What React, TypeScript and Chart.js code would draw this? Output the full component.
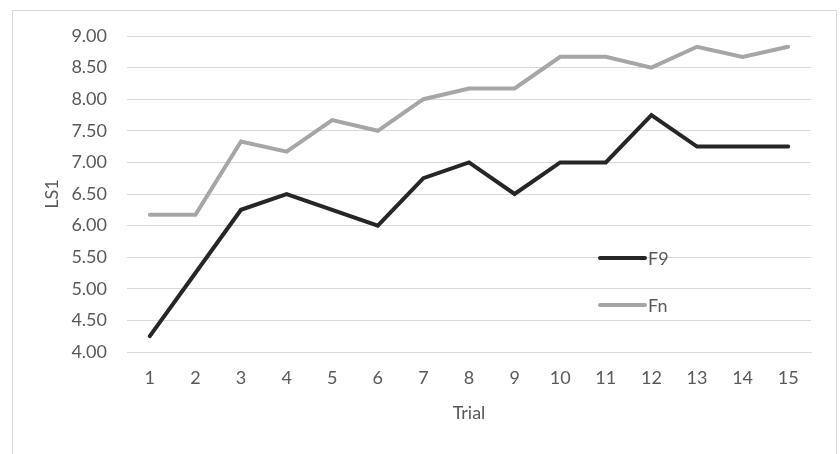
import React, { useEffect, useRef } from "react";
import { Chart, registerables } from "chart.js";

Chart.register(...registerables);

const categories = ["1", "2", "3", "4", "5", "6", "7", "8", "9", "10", "11", "12", "13", "14", "15"];
const f9Values = [4.25, 5.25, 6.25, 6.5, 6.25, 6.0, 6.75, 7.0, 6.5, 7.0, 7.0, 7.75, 7.25, 7.25, 7.25];
const fnValues = [6.17, 6.17, 7.33, 7.17, 7.67, 7.5, 8.0, 8.17, 8.17, 8.67, 8.67, 8.5, 8.83, 8.67, 8.83];
const seriesNames = ["F9", "Fn"];
const yMin = 4;
const yMax = 9;
const yStep = 0.5;

const FONT = "Lato, 'Open Sans', sans-serif";
const TEXT = "#595959";
const GRID = "#d9d9d9";
const COLORS = ["#262626", "#a6a6a6"];

const legendPlugin = {
  id: "insideLegend",
  afterDraw(chart: any) {
    const { ctx, chartArea } = chart;
    const w = chartArea.right - chartArea.left;
    const h = chartArea.bottom - chartArea.top;
    const x0 = chartArea.left + w * ((600 - 127) / 684);
    const x1 = chartArea.left + w * ((645 - 127) / 684);
    const ys = [chartArea.top + h * ((258 - 36) / 316), chartArea.top + h * ((305 - 36) / 316)];
    ctx.save();
    chart.data.datasets.forEach((ds: any, i: number) => {
      ctx.strokeStyle = ds.borderColor;
      ctx.lineWidth = 4;
      ctx.lineCap = "round";
      ctx.beginPath();
      ctx.moveTo(x0, ys[i]);
      ctx.lineTo(x1, ys[i]);
      ctx.stroke();
      ctx.fillStyle = TEXT;
      ctx.font = `18px ${FONT}`;
      ctx.textAlign = "left";
      ctx.textBaseline = "middle";
      ctx.fillText(ds.label, x1 + 3, ys[i] + 1);
    });
    ctx.restore();
  },
};

export default function App() {
  const ref = useRef<HTMLCanvasElement | null>(null);
  useEffect(() => {
    if (!ref.current) return;
    const chart = new Chart(ref.current, {
      type: "line",
      data: {
        labels: categories,
        datasets: [
          {
            label: seriesNames[0],
            data: f9Values,
            borderColor: COLORS[0],
            backgroundColor: COLORS[0],
            borderWidth: 4,
            pointRadius: 0,
            tension: 0,
            borderCapStyle: "round",
          },
          {
            label: seriesNames[1],
            data: fnValues,
            borderColor: COLORS[1],
            backgroundColor: COLORS[1],
            borderWidth: 4,
            pointRadius: 0,
            tension: 0,
            borderCapStyle: "round",
          },
        ],
      },
      options: {
        responsive: false,
        animation: false,
        devicePixelRatio: 1,
        layout: { padding: { left: 0, right: 29, top: 36, bottom: 0 } },
        plugins: {
          legend: { display: false },
          tooltip: { enabled: false },
          title: { display: false },
        },
        scales: {
          x: {
            offset: true,
            grid: { display: false, drawTicks: false },
            border: { display: true, color: GRID, width: 1 },
            ticks: { color: TEXT, font: { family: FONT, size: 18 }, padding: 15, maxRotation: 0 },
            title: {
              display: true,
              text: "Trial",
              color: TEXT,
              font: { family: FONT, size: 18 },
              padding: { top: 0, bottom: 30 },
            },
            afterFit(scale: any) {
              scale.height = 102;
            },
          },
          y: {
            min: yMin,
            max: yMax,
            grid: { color: GRID, lineWidth: 1, drawTicks: false },
            border: { display: false },
            ticks: {
              stepSize: yStep,
              color: TEXT,
              font: { family: FONT, size: 18 },
              padding: 20,
              callback: (v: any) => Number(v).toFixed(2),
            },
            title: {
              display: true,
              text: "LS1",
              color: TEXT,
              font: { family: FONT, size: 18 },
              padding: { top: 41, bottom: 0 },
            },
            afterFit(scale: any) {
              scale.width = 127;
            },
          },
        },
      },
      plugins: [legendPlugin],
    });
    return () => chart.destroy();
  }, []);

  return (
    <div style={{ position: "fixed", left: 0, top: 0, width: 840, height: 454, background: "#fff", overflow: "hidden" }}>
      <div
        style={{
          position: "absolute",
          left: 12,
          top: 10,
          width: 825,
          height: 470,
          border: `1px solid ${GRID}`,
          boxSizing: "border-box",
        }}
      />
      <canvas ref={ref} width={840} height={454} style={{ position: "absolute", left: 0, top: 0, width: 840, height: 454 }} />
    </div>
  );
}
